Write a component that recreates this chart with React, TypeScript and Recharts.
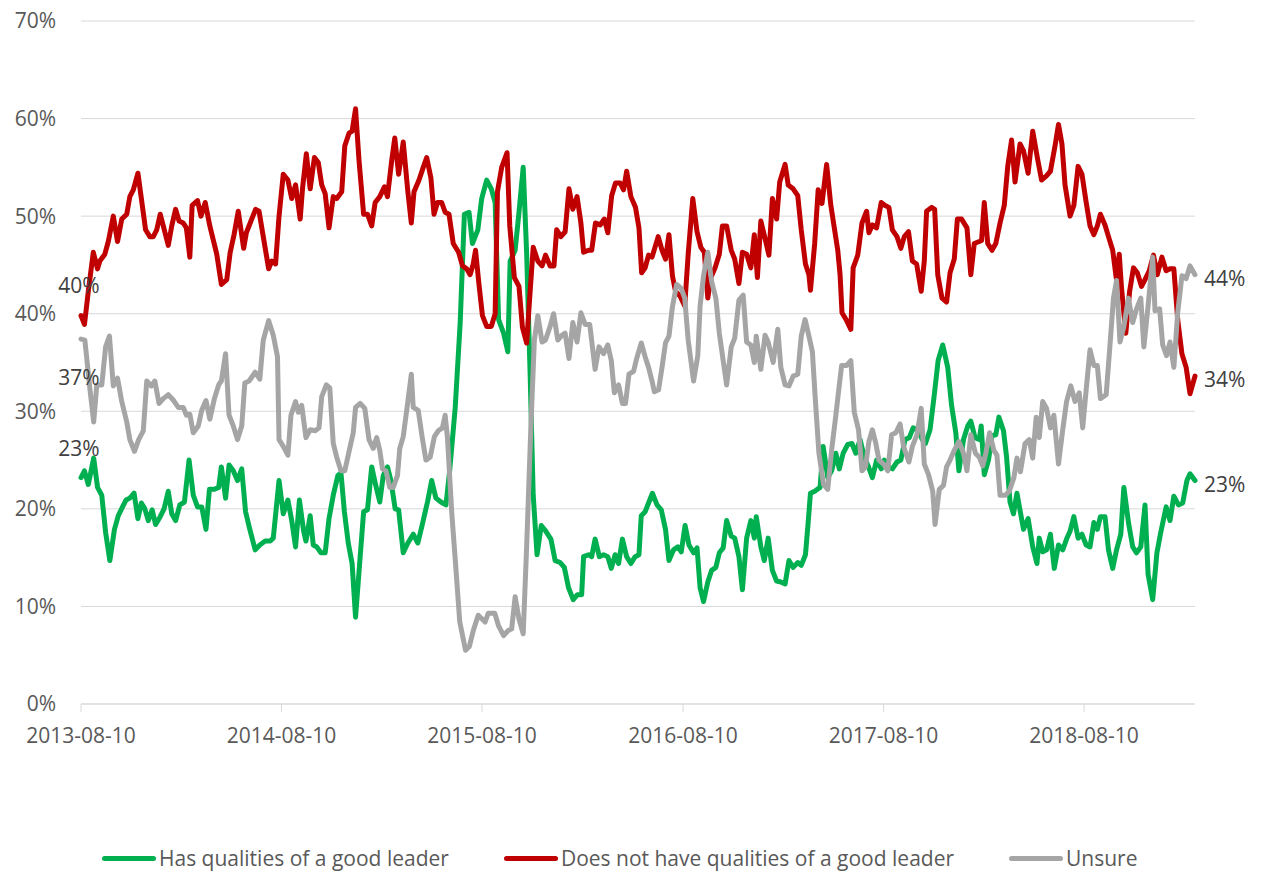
import { LineChart, Line, XAxis, YAxis, CartesianGrid, Legend } from 'recharts'

const FONT = '"Open Sans", "Noto Sans", sans-serif'

// x values are weeks since the first poll (2013-08-10)
const START_DATE = '2013-08-10'
const tickLabels = ['2013-08-10', '2014-08-10', '2015-08-10', '2016-08-10', '2017-08-10', '2018-08-10']
const yTicks = [0, 10, 20, 30, 40, 50, 60, 70]

const hasQualities: [number, number][] = [
    [0, 23.2], [0.9, 23.9], [1.9, 22.5], [3.3, 25.2], [4.3, 22.2], [5.4, 21.4], [6.4, 17.6], [7.5, 14.7], [8.7, 17.9], [9.7, 19.3],
    [10.8, 20.2], [11.7, 20.9], [12.7, 21.1], [13.8, 21.6], [14.8, 19], [15.7, 20.6], [16.6, 20], [17.5, 18.8], [18.5, 19.9], [19.4, 18.4],
    [20.6, 19.2], [21.6, 20], [22.7, 21.8], [23.6, 19.5], [24.6, 18.8], [25.7, 20.4], [26.9, 20.7], [28.1, 25], [29.2, 21.4], [30.3, 20.2],
    [31.4, 20.2], [32.5, 17.9], [33.4, 22], [34.7, 22], [35.8, 22.2], [36.5, 24.3], [37.6, 21.1], [38.5, 24.5], [39.6, 23.9], [40.7, 22.9],
    [41.8, 24.1], [42.8, 19.7], [43.9, 17.9], [45.3, 15.8], [46.5, 16.3], [47.9, 16.7], [49.2, 16.7], [50, 17], [51.5, 22.9], [52.6, 19.5],
    [53.8, 20.9], [54.8, 18.8], [55.8, 16.1], [56.8, 20.9], [57.9, 17.7], [58.5, 16.7], [59.6, 19.3], [60.4, 16.3], [61.3, 16.1], [62.4, 15.5],
    [63.5, 15.5], [64.5, 19], [65.6, 21.4], [66.8, 23.4], [67.6, 23.7], [68.5, 19.7], [69.5, 16.5], [70.5, 14.4], [71.4, 8.9], [72.6, 15.1],
    [73.5, 19.7], [74.5, 19.9], [75.6, 24.3], [76.6, 22.5], [77.7, 20.7], [78.6, 23.4], [79.7, 24.3], [80.6, 22.9], [81.7, 20], [82.6, 19.9],
    [83.8, 15.5], [85, 16.5], [86.4, 17.4], [87.6, 16.5], [88.7, 18.3], [90.1, 20.7], [91.2, 22.9], [92.3, 21.1], [93.6, 20.7], [94.9, 20.4],
    [95.9, 24], [97.3, 30.3], [98.6, 39], [99.7, 50.2], [100.9, 50.4], [101.8, 47.2], [103.2, 48.6], [104.2, 51.8], [105.5, 53.7], [106.7, 52.8],
    [107.7, 51.4], [108.6, 39.4], [109.9, 38], [111, 36.1], [111.6, 45.4], [112.9, 46.5], [113.9, 50.4], [115, 55], [115.9, 46.1], [116.8, 33.8],
    [117.6, 21.4], [118.6, 15.3], [119.7, 18.3], [120.9, 17.7], [122.2, 16.9], [123.3, 14.7], [124.6, 14.5], [125.7, 14], [126.8, 11.9], [128, 10.7],
    [129.1, 11.2], [130.2, 11.2], [130.7, 15.1], [132, 15.3], [132.8, 15.1], [133.7, 16.9], [134.8, 15.1], [135.9, 15.3], [137, 15.1], [137.9, 13.9],
    [138.9, 15.3], [139.8, 14.4], [140.8, 16.9], [141.9, 15.1], [143, 14.4], [144.1, 15.1], [145.1, 15.3], [145.7, 19.3], [146.7, 19.7], [147.6, 20.6],
    [148.6, 21.6], [149.8, 20.4], [150.9, 19.9], [152, 17.9], [152.9, 14.7], [154.1, 15.8], [155.2, 16.1], [156.1, 15.6], [157.1, 18.3], [158.1, 16.3],
    [159.3, 15.5], [160.2, 16], [161, 11.9], [161.9, 10.5], [163, 12.5], [164, 13.7], [165.1, 14], [166, 15.5], [167, 16], [167.9, 18.8],
    [169.1, 17.2], [170, 17], [171.1, 15.1], [172, 11.7], [173.1, 17], [174.2, 18.8], [175.1, 17], [175.6, 19.2], [176.8, 16.1], [177.7, 14.7],
    [178.7, 17], [179.8, 13.7], [180.9, 12.6], [182, 12.5], [183.1, 12.3], [184.1, 14.7], [185.2, 14], [186.4, 14.5], [187.3, 14.2], [188.4, 15.3],
    [189.1, 18.6], [189.7, 21.6], [190.8, 21.8], [192.2, 22.2], [193, 26.4], [194.2, 23.2], [195.2, 23.9], [196.3, 25.7], [197.2, 24.1], [198.2, 25.7],
    [199.4, 26.6], [200.5, 26.7], [201.5, 25.7], [202.6, 27.1], [203.7, 25.3], [204.7, 24.4], [205.8, 23.2], [206.9, 25], [208.1, 24.1], [208.9, 25],
    [209.9, 24.3], [211, 24.1], [212.2, 24.8], [213.2, 25], [214.3, 27.1], [215.4, 27.3], [216.4, 28.3], [217.6, 28.1], [218.8, 27.1], [219.6, 26.7],
    [220.8, 28.1], [221.9, 31.7], [222.9, 35.2], [224.1, 36.8], [225.4, 34.5], [226.4, 30.6], [227.5, 27.8], [228.3, 23.9], [229.5, 27.1], [230.6, 28.5],
    [231.4, 29], [232.5, 27.3], [233.6, 27.1], [234.1, 28.5], [234.9, 23.5], [236, 25], [236.9, 27.5], [237.9, 27.6], [238.7, 29.4], [239.9, 28],
    [240.7, 25.3], [241.6, 20.7], [242.5, 19.5], [243.4, 21.6], [245.1, 17.9], [246.3, 19], [247.5, 16.1], [248.6, 14.4], [249.2, 17], [250.1, 15.6],
    [251.1, 15.8], [252.1, 17.4], [253.1, 13.9], [254.2, 16.3], [255.3, 15.8], [256.3, 16.9], [257.2, 17.7], [258.2, 19.2], [259.3, 17], [260.3, 17.4],
    [261.4, 16.3], [262.4, 16.1], [263.4, 18.6], [264.3, 17.9], [265.1, 19.2], [266.3, 19.2], [267.2, 15.8], [268.3, 13.9], [269.3, 15.8], [270.4, 17.4],
    [271.2, 22.2], [272.4, 18.6], [273.5, 16.1], [274.5, 15.5], [275.6, 16.1], [276.7, 20.4], [277.5, 13.3], [278.7, 10.7], [279.8, 15.5], [280.8, 17.6],
    [282.2, 20.2], [283.2, 18.8], [284.2, 21.3], [285.4, 20.4], [286.5, 20.6], [287.6, 22.9], [288.4, 23.6], [289.7, 22.9]
]

const notQualities: [number, number][] = [
    [0, 39.8], [0.9, 38.9], [1.9, 42.3], [3.2, 46.3], [4.3, 44.6], [4.9, 45.4], [6.2, 46.1], [7.1, 47.4], [8.4, 50], [9.5, 47.4],
    [10.6, 49.7], [11.9, 50.2], [12.7, 52], [13.6, 52.7], [14.8, 54.4], [15.7, 51.8], [16.8, 48.6], [17.9, 47.9], [18.8, 47.9], [19.7, 48.6],
    [20.6, 50.2], [21.4, 49], [22.7, 47], [23.6, 49], [24.6, 50.7], [25.5, 49.5], [26.6, 49.3], [27.4, 48.8], [28.3, 45.8], [28.9, 51.1],
    [30.3, 51.6], [31.2, 50], [32.3, 51.4], [33.5, 49], [35.3, 46.1], [36.5, 43], [37.9, 43.5], [38.8, 46.3], [39.8, 48.1], [40.9, 50.5],
    [42.3, 46.7], [43, 48.3], [44.2, 49.5], [45.4, 50.7], [46.3, 50.5], [48.8, 44.6], [49.6, 45.4], [50.6, 45.1], [51.5, 50], [52.6, 54.3],
    [53.8, 53.7], [54.8, 51.8], [55.8, 53.2], [57, 49.7], [57.6, 52.8], [58.6, 56.4], [59.6, 52.8], [60.7, 56], [61.7, 55.5], [62.6, 53.2],
    [63.5, 52.3], [64.5, 48.8], [65.6, 52], [66.5, 51.8], [67.8, 52.5], [68.6, 57.2], [69.7, 58.5], [70.5, 58.7], [71.4, 61], [72.3, 55.7],
    [73.5, 50.2], [74.5, 50.2], [75.6, 49], [76.5, 51.4], [77.7, 52], [78.9, 53], [79.7, 52], [80.8, 55.7], [81.6, 58], [82.6, 54.3],
    [83.8, 57.6], [85, 52.5], [85.9, 49.3], [86.6, 52.5], [87.9, 53.7], [89, 55], [89.9, 56], [91, 53.9], [91.8, 50.2], [92.7, 51.4],
    [93.8, 51.4], [94.7, 50.4], [95.7, 50.2], [96.8, 47.2], [98.2, 46.3], [99.2, 44.9], [100.3, 44.6], [101.2, 44], [102, 45.1], [102.6, 46.5],
    [103.5, 43], [104.4, 39.8], [105.5, 38.7], [106.7, 38.7], [107.7, 40], [108.3, 52.5], [109.4, 55], [110.8, 56.5], [111.5, 49], [112.7, 43.7],
    [113.9, 42.8], [114.8, 38.6], [115.9, 37], [116.8, 42.3], [117.6, 46.8], [118.8, 45.4], [119.9, 44.9], [120.8, 46], [122, 44.9], [123, 44.9],
    [123.7, 48.6], [124.8, 47.9], [125.9, 48.4], [126.9, 52.8], [127.9, 50.7], [129, 52], [130, 49.3], [130.7, 46.3], [132, 46.5], [132.8, 46.5],
    [133.8, 49.3], [135, 49.1], [136.1, 49.7], [137, 48.3], [138, 52.1], [139, 53.4], [140.2, 53.4], [141.1, 52.7], [141.9, 54.6], [143, 52],
    [144.2, 50.9], [145.1, 48.8], [145.8, 44.2], [146.7, 44.7], [147.6, 46], [148.5, 45.8], [150.1, 47.9], [151.1, 46.5], [152, 45.6], [152.9, 48.1],
    [153.8, 43.9], [154.6, 42.3], [155.8, 41.8], [157, 40.8], [157.9, 46.1], [159.1, 51.8], [160.2, 48.4], [161.2, 46.8], [162.1, 46.3], [163, 41.6],
    [163.8, 43.7], [164.9, 44.7], [166, 46.1], [166.8, 49], [167.9, 49], [169.1, 46.5], [170, 45.6], [171.1, 43.1], [172, 46.3], [173.1, 46.1],
    [174.2, 44.7], [175.1, 48.1], [175.9, 43.7], [176.8, 49.5], [177.9, 47.7], [178.9, 46], [179.8, 51.8], [180.9, 49.7], [181.7, 53.5], [183.1, 55.3],
    [183.9, 53.2], [185.2, 52.8], [186.4, 52.1], [187.3, 48.6], [188.4, 45.1], [189.3, 44], [189.7, 42.4], [190.8, 47.2], [191.7, 52.7], [192.7, 51.3],
    [193.9, 55.3], [195, 51.1], [196.8, 46.5], [197.4, 44], [197.9, 40.1], [199.1, 39.3], [200.2, 38.4], [200.8, 44.7], [202, 46], [203.1, 49.3],
    [204.3, 50.5], [204.9, 48.3], [205.8, 49.1], [206.9, 48.8], [208.1, 51.4], [209.1, 51.1], [210.1, 50.9], [211, 48.6], [212.2, 47.9], [213.2, 46.7],
    [214.1, 47.9], [215.2, 48.4], [216.2, 45.4], [217.3, 45.1], [218.5, 42.3], [219.3, 45.4], [219.9, 50.5], [221.2, 50.9], [222, 50.7], [222.8, 44],
    [223.9, 41.6], [225.1, 41.2], [226, 44.2], [227.1, 45.6], [227.9, 49.7], [229, 49.7], [230.4, 48.8], [231.4, 44], [232.3, 47.2], [233.6, 47.4],
    [234.2, 47.5], [234.9, 51.4], [235.8, 47.2], [236.9, 46.5], [237.9, 47.2], [239, 49.3], [240.1, 51.1], [241, 55.1], [242, 57.8], [242.9, 53.5],
    [244.2, 57.4], [245.1, 56.7], [246.3, 54.4], [247.5, 58.7], [248.7, 56], [249.8, 53.7], [251, 54.1], [252.1, 54.6], [253.3, 57.2], [254.2, 59.4],
    [255.1, 57.4], [255.9, 53.2], [257.2, 50], [258.2, 51.1], [259.3, 55.1], [260.3, 54.3], [261.4, 51.4], [262.4, 49], [263.4, 48.1], [264.3, 49],
    [265.1, 50.2], [266.3, 49.1], [267.2, 47.9], [268.3, 46.5], [269.2, 43.7], [270, 46.1], [270.6, 42.6], [271.7, 38], [272.7, 42.3], [273.7, 44.7],
    [274.7, 44.2], [275.8, 42.8], [276.7, 43.5], [277.8, 44.4], [278.9, 46], [279.9, 44], [281.1, 45.8], [282.2, 44.4], [283.2, 44.6], [284.2, 44.6],
    [285.2, 39.4], [286.3, 35.9], [287.4, 34.5], [288.4, 31.8], [289.7, 33.6]
]

const unsure: [number, number][] = [
    [0, 37.4], [1, 37.3], [2.4, 32], [3.3, 28.9], [4.1, 32.7], [5.4, 32.7], [6.4, 36.6], [7.4, 37.7], [8.4, 32.6], [9.5, 33.4],
    [10.6, 31], [11.9, 28.9], [12.7, 27.1], [13.9, 25.9], [15, 27.1], [16.2, 28], [17.1, 33.1], [18.3, 32.6], [19.2, 33.1], [20.3, 30.8],
    [21.4, 31.3], [22.7, 31.7], [24.1, 31.1], [25.3, 30.4], [26.6, 30.4], [27.4, 29.6], [28.3, 29.7], [29.2, 27.8], [30.5, 28.5], [31.4, 30.1],
    [32.5, 31.1], [33.5, 29.2], [34.7, 31.3], [35.8, 32.7], [36.5, 33.1], [37.6, 35.9], [38.5, 29.6], [39.6, 28.5], [40.7, 27.1], [41.8, 28.5],
    [42.6, 32.9], [43.7, 33.1], [45.3, 34], [46.5, 33.3], [47.4, 37.3], [48.8, 39.3], [50, 37.8], [51.1, 35.6], [51.5, 27.1], [52.6, 26.4],
    [53.8, 25.5], [54.6, 29.6], [55.8, 31], [56.5, 29.9], [57.4, 30.6], [58.5, 27.3], [59.6, 28.1], [60.9, 28], [61.9, 28.3], [62.6, 31.5],
    [63.8, 32.7], [64.7, 32.4], [65.6, 26.7], [66.5, 25.3], [67.6, 23.9], [68.6, 23.9], [70, 26.4], [70.8, 27.8], [71.4, 30.4], [72.6, 30.8],
    [73.8, 30.3], [74.9, 27.1], [76, 26.2], [76.9, 27.3], [77.7, 26], [78.4, 24.1], [79.3, 23.9], [80.3, 22.2], [81.2, 22.2], [82.3, 23.4],
    [82.9, 26.2], [83.8, 27.4], [85, 31], [85.9, 33.8], [86.4, 30.4], [87.7, 30.1], [88.7, 27.4], [89.7, 25], [90.8, 25.3], [91.9, 27.4],
    [92.9, 28], [94, 28.3], [94.7, 29.6], [95.3, 27.3], [96.4, 19.7], [97.4, 14.4], [98.5, 8.4], [100, 5.5], [101, 5.9], [102, 7.5],
    [103.3, 9.1], [105.1, 8.4], [105.9, 9.3], [107.6, 9.3], [108.6, 8], [109.9, 7], [111, 7.5], [112, 7.7], [112.9, 11], [113.9, 8.7],
    [115, 7.2], [115.9, 16.2], [117, 28.5], [117.9, 37.3], [118.8, 39.8], [119.9, 37.1], [120.8, 37.3], [122, 38.7], [122.9, 40], [124, 37.3],
    [125.1, 37.8], [125.9, 38], [126.9, 35.4], [127.9, 39.1], [129, 37.1], [130, 40.1], [131.1, 38.9], [132.3, 38.9], [133.7, 34.3], [134.7, 36.6],
    [135.9, 35.9], [137, 36.8], [137.9, 35.2], [138.7, 31.9], [139.8, 32.7], [140.8, 30.8], [141.6, 30.8], [142.5, 33.8], [143.7, 34.1], [144.5, 35.4],
    [145.7, 37], [146.7, 35.6], [147.6, 34.5], [148.5, 33.1], [149.1, 32], [150.2, 32.2], [151.1, 34.5], [152, 37], [152.9, 37.7], [153.8, 40.7],
    [154.9, 43], [156.1, 42.6], [157, 41.6], [157.9, 37.3], [159.3, 33.1], [160.4, 35.7], [161, 40.8], [161.9, 43.9], [163, 46.3], [164, 43.3],
    [165.1, 41.6], [166, 38], [167, 35.2], [167.9, 32.7], [169.1, 36.6], [170, 37.5], [171.1, 41.4], [172.2, 41.9], [173.1, 37.1], [174.2, 36.8],
    [175.1, 35], [175.6, 37.7], [176.8, 34.3], [177.9, 37.8], [178.7, 37.1], [180, 35], [181.2, 38.4], [182, 34.5], [183.1, 32.7], [184.1, 32.6],
    [185.2, 33.6], [186.4, 33.8], [187.3, 37.7], [188.3, 39.4], [189.3, 37.7], [190.2, 36.1], [191, 31], [191.9, 25.7], [193.1, 22.5], [194.2, 22],
    [195.2, 26], [196.3, 29.6], [197, 32], [197.8, 34.7], [199.1, 34.7], [200.2, 35.2], [201.1, 29.9], [202.2, 28.1], [203.1, 23.9], [204, 24.3],
    [204.9, 26.9], [205.8, 28.1], [206.7, 26.7], [207.5, 25], [208.7, 24.6], [209.8, 23.9], [210.8, 27.6], [211.9, 27.8], [213, 28.7], [213.9, 26.4],
    [215.3, 24.8], [216.2, 26.4], [217.4, 27.6], [218.5, 30.3], [219.3, 24.6], [220.4, 23.5], [221.5, 21.8], [222.1, 18.4], [223.2, 22], [224.3, 22.4],
    [225.1, 24.3], [226, 25], [227.1, 26], [228.3, 26.9], [229.5, 25.7], [230.4, 23.9], [231.4, 27.6], [232.6, 25.7], [233.6, 25.3], [234.5, 24.4],
    [235.3, 25.7], [236.3, 27.8], [237.4, 26], [238.2, 25.5], [239, 21.4], [240.4, 21.4], [241.4, 21.8], [242.6, 23.2], [243.4, 25.2], [244.3, 23.8],
    [245.5, 26.7], [246.6, 27.1], [247.5, 25.2], [248.4, 29.4], [249.2, 27.3], [250.1, 31], [251.1, 30.3], [252.1, 28.3], [253, 29.6], [254.2, 24.6],
    [255.3, 28.1], [256.3, 31], [257.4, 32.6], [258.5, 31], [259.6, 31.9], [260.5, 28.3], [261.4, 32.2], [262.4, 36.3], [263.4, 34.7], [264.3, 34.7],
    [265.1, 31.3], [266.6, 31.7], [267.5, 36.3], [268.5, 41.6], [269.3, 43.4], [270.2, 37.1], [271.2, 38.7], [272.4, 41.6], [273.5, 39.1], [274.5, 40.5],
    [275.6, 41.6], [276.4, 36.6], [277.5, 40.8], [278.7, 45.8], [279.3, 40.3], [280.5, 40.5], [281.3, 36.8], [282.3, 35.7], [283.2, 37.1], [284.2, 34.5],
    [285.2, 40.1], [286.3, 43.9], [287.4, 43.6], [288.4, 44.9], [289.7, 44]
]

const weekOf = (date: string) => (Date.parse(date) - Date.parse(START_DATE)) / (7 * 86400000)
const tickWeeks = tickLabels.map(weekOf)
const lastWeek = Math.max(...hasQualities.map(p => p[0]))

const toRows = (pts: [number, number][]) => pts.map(([week, v]) => ({ week, v }))

// dy of the start label (above / below the first point)
const series = [
    { name: 'Has qualities of a good leader', color: '#00B050', data: toRows(hasQualities), startDy: -30 },
    { name: 'Does not have qualities of a good leader', color: '#C00000', data: toRows(notQualities), startDy: -31 },
    { name: 'Unsure', color: '#A5A5A5', data: toRows(unsure), startDy: 38 }
]

const labelStyle = { fontFamily: FONT, fontSize: 21, fill: '#404040' }

function endLabels(count: number, startDy: number) {
    return (props: any) => {
        const { cx, cy, index, payload } = props
        const text = `${Math.round(payload.v)}%`
        if (index === 0) {
            return (
                <text key={`l-${index}`} x={cx - 2} y={cy + startDy} textAnchor="middle" dominantBaseline="central" {...labelStyle}>
                    {text}
                </text>
            )
        }
        if (index === count - 1) {
            return (
                <text key={`l-${index}`} x={cx + 9} y={cy + 3} textAnchor="start" dominantBaseline="central" {...labelStyle}>
                    {text}
                </text>
            )
        }
        return <g key={`l-${index}`} />
    }
}

function LegendRow() {
    return (
        <div style={{
            display: 'flex', alignItems: 'center', height: 24, paddingLeft: 102,
            fontFamily: FONT, fontSize: 21, color: '#595959', whiteSpace: 'nowrap'
        }}>
            {series.map(s => (
                <div key={s.name} style={{ display: 'flex', alignItems: 'center', marginRight: 55 }}>
                    <span style={{ display: 'inline-block', width: 54, height: 5, borderRadius: 3, background: s.color, marginRight: 3 }} />
                    {s.name}
                </div>
            ))}
        </div>
    )
}

export default function App() {
    return (
        <div style={{ position: 'absolute', left: 0, top: 0, background: '#fff' }}>
            <LineChart width={1267} height={872} margin={{ top: 21, right: 72, left: 0, bottom: 2 }}>
                <CartesianGrid vertical={false} stroke="#D9D9D9" strokeWidth={1} />
                <XAxis
                    type="number"
                    dataKey="week"
                    domain={[0, lastWeek]}
                    ticks={tickWeeks}
                    interval={0}
                    tickFormatter={(w: number) => tickLabels[tickWeeks.indexOf(w)] ?? ''}
                    height={142}
                    axisLine={{ stroke: '#D9D9D9' }}
                    tickLine={{ stroke: '#D9D9D9' }}
                    tickSize={8}
                    tickMargin={16}
                    tick={{ fill: '#595959', fontSize: 21, fontFamily: FONT }}
                />
                <YAxis
                    width={81}
                    domain={[0, 70]}
                    ticks={yTicks}
                    interval={0}
                    tickFormatter={(v: number) => `${v}%`}
                    axisLine={false}
                    tickLine={false}
                    tickSize={0}
                    tickMargin={25}
                    tick={{ fill: '#595959', fontSize: 21, fontFamily: FONT }}
                />
                <Legend
                    verticalAlign="bottom"
                    content={() => <LegendRow />}
                    wrapperStyle={{ left: 0, bottom: 2, width: 1267 }}
                />
                {series.map(s => (
                    <Line
                        key={s.name}
                        name={s.name}
                        data={s.data}
                        dataKey="v"
                        type="linear"
                        stroke={s.color}
                        strokeWidth={5}
                        strokeLinejoin="round"
                        strokeLinecap="round"
                        dot={endLabels(s.data.length, s.startDy)}
                        activeDot={false}
                        isAnimationActive={false}
                    />
                ))}
            </LineChart>
        </div>
    )
}
